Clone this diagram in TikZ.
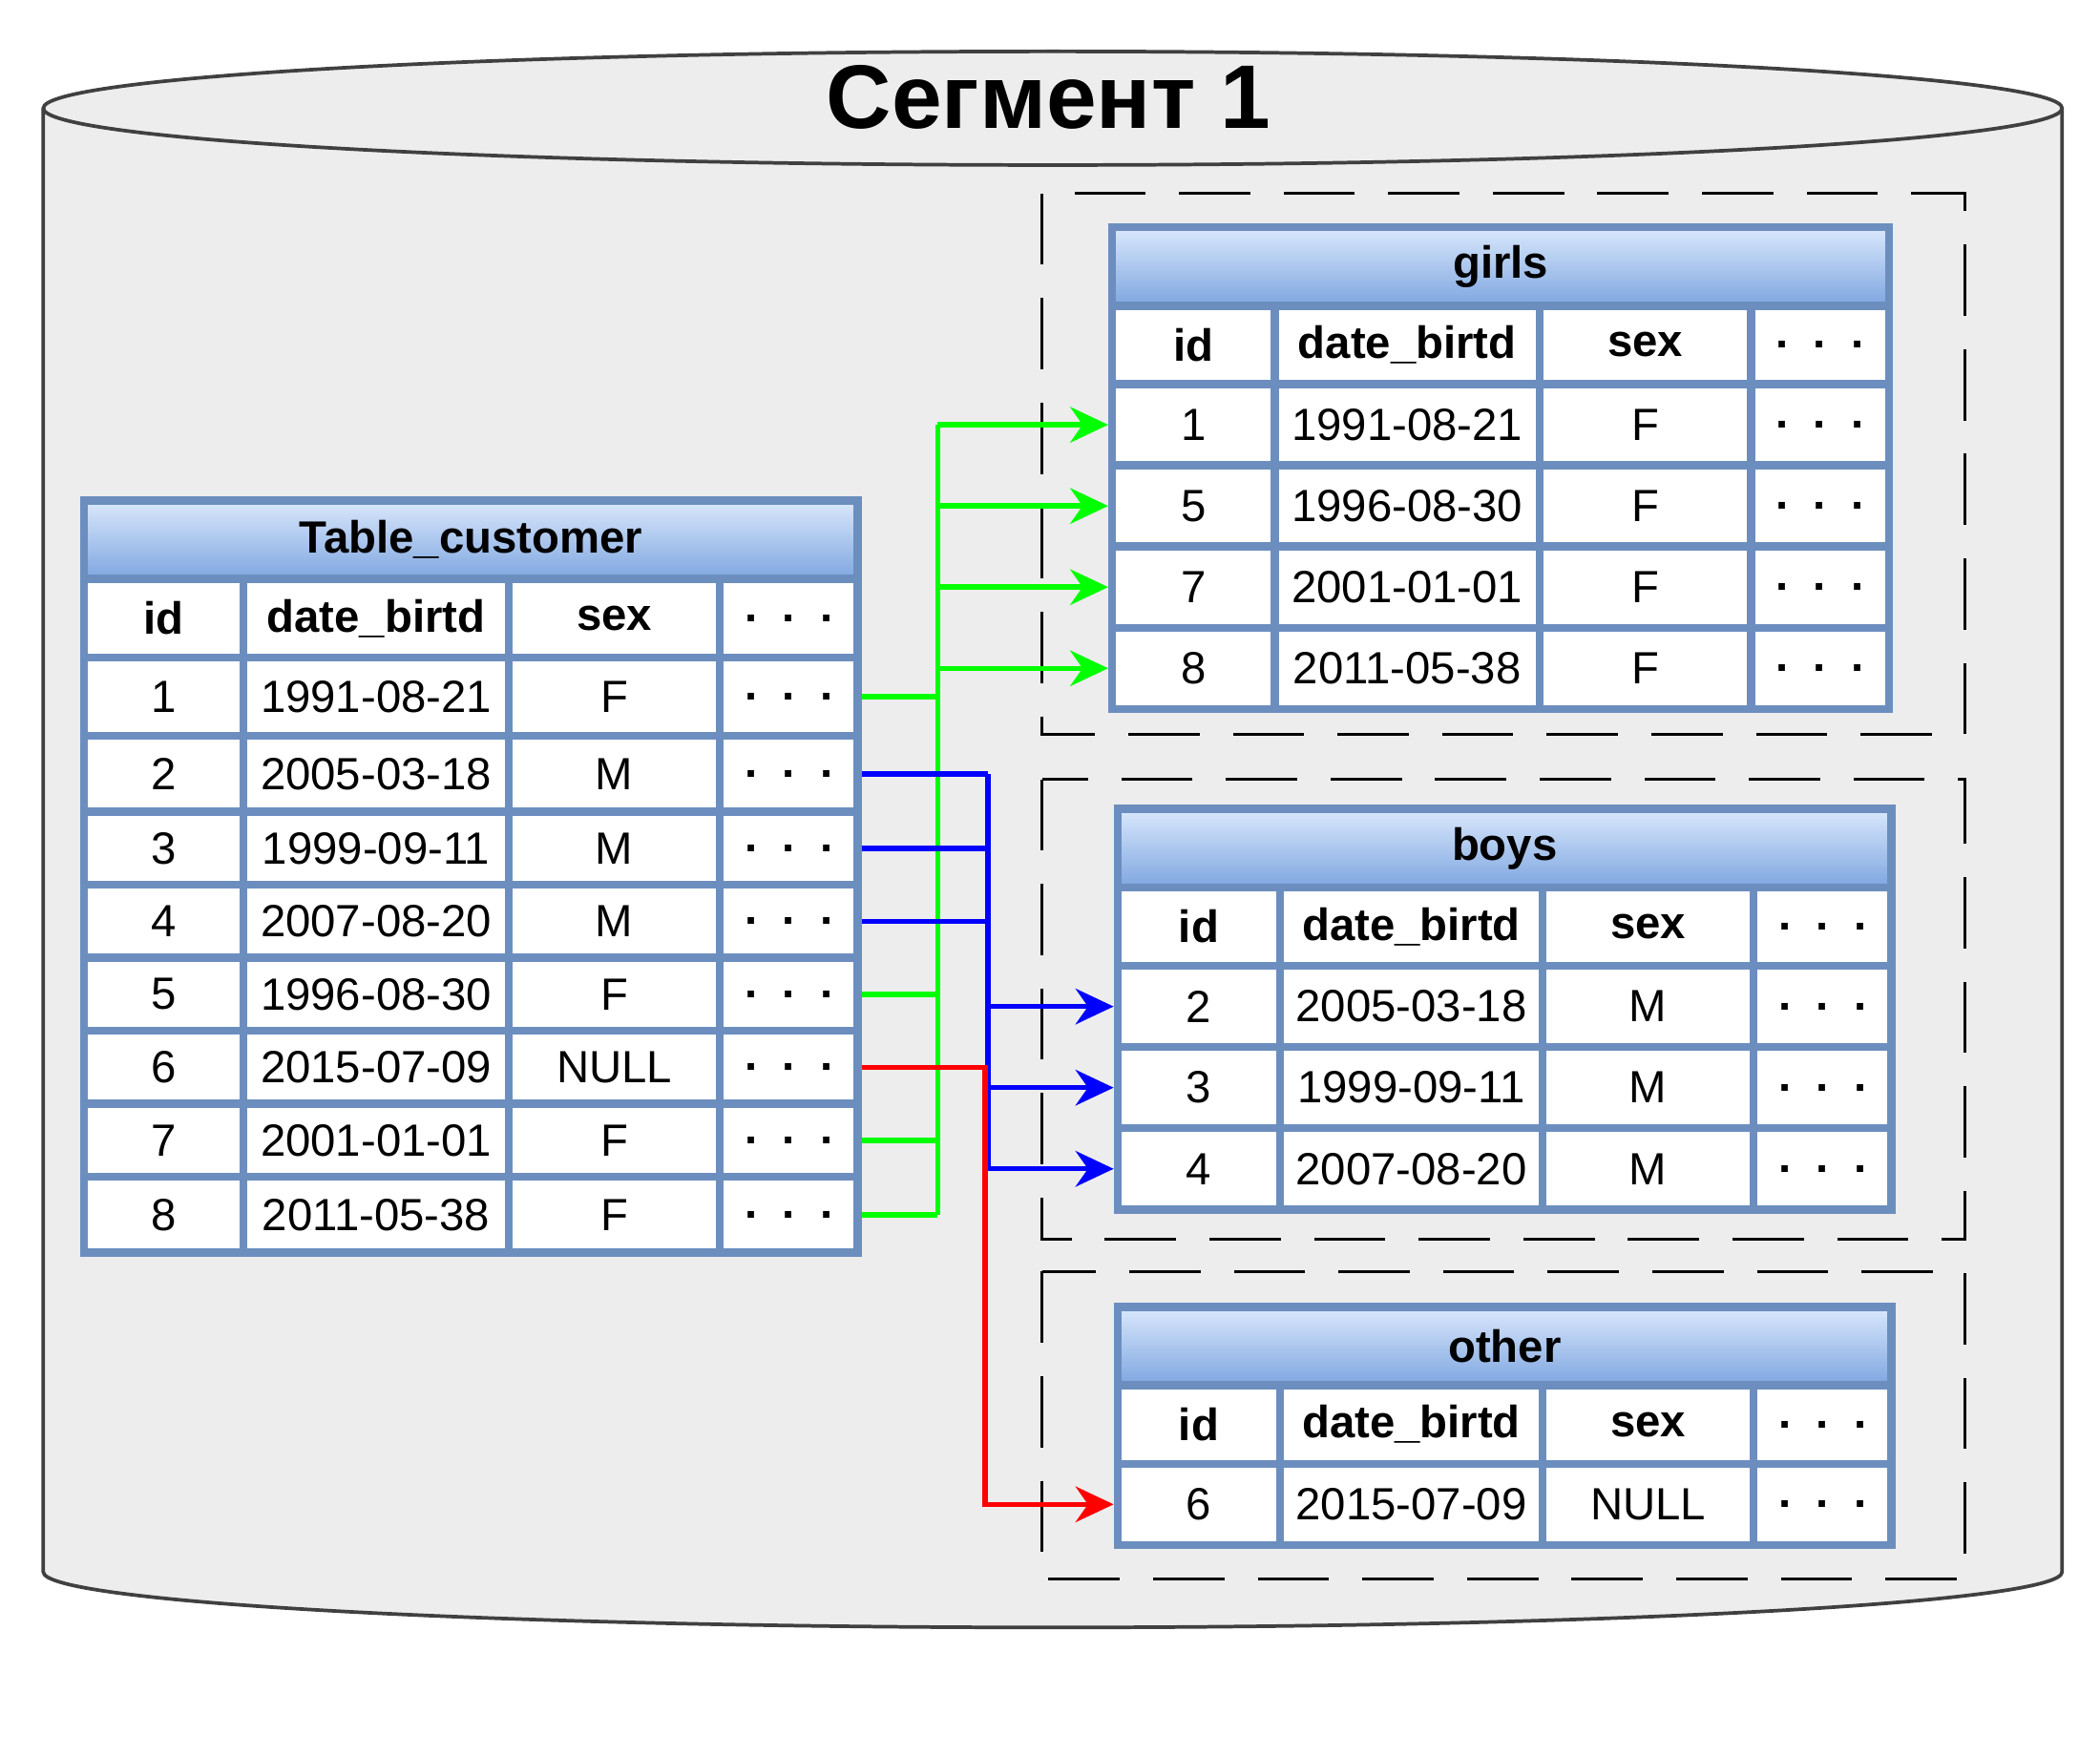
\documentclass[tikz,border=0pt]{standalone}
\usepackage{fontspec}
\setmainfont{Liberation Sans}
\usetikzlibrary{arrows.meta}
\begin{document}
\begin{tikzpicture}[x=0.02cm,y=-0.02cm,
  cell/.style={draw=bord,line width=3.4pt,fill=white,inner sep=0pt,font=\fontsize{19}{22}\selectfont},
  hcell/.style={cell,font=\fontsize{19}{22}\selectfont\bfseries},
  ttl/.style={draw=bord,line width=3.4pt,top color=hdtop,bottom color=hdbot,inner sep=0pt,font=\fontsize{19}{22}\selectfont\bfseries},
  grp/.style={draw=black,line width=1.2pt,dash pattern=on 30pt off 14pt},
  tip/.style={-{Stealth[length=16pt,width=15pt]}}]
\definecolor{bord}{HTML}{6C8EBF}
\definecolor{hdtop}{HTML}{DAE8FC}
\definecolor{hdbot}{HTML}{7EA6E0}
\definecolor{cyl}{HTML}{EDEDED}
\useasboundingbox (0,0) rectangle (1552,1298);
% cylinder
\draw[line width=1.5pt,fill=cyl,draw=black!75] (32,80) -- (32,1162) arc[start angle=180,end angle=0,x radius=746,y radius=41] -- (1524,80) arc[start angle=0,end angle=-180,x radius=746,y radius=42] -- cycle;
\draw[line width=1.5pt,draw=black!75] (32,80) arc[start angle=180,end angle=0,x radius=746,y radius=42];
\node[font=\fontsize{38}{44}\selectfont\bfseries] (title) at (775,72) {Сегмент 1};
% dashed groups
\draw[grp] (770,143) rectangle (1452,543);
\draw[grp] (770,576) rectangle (1452,916);
\draw[grp] (770,940) rectangle (1452,1167);
\newcommand\cel[7]{\node[#7,minimum width={(#4-#2)*0.02cm},minimum height={(#5-#3)*0.02cm}] (#1) at ({(#2+#4)/2},{(#3+#5)/2}) {#6};}
\newcommand\rowq[9]{%
\cel{#1a}{#4}{#2}{#5}{#3}{\ta}{#9}\cel{#1b}{#5}{#2}{#6}{#3}{\tb}{#9}\cel{#1c}{#6}{#2}{#7}{#3}{\tc}{#9}\cel{#1d}{#7}{#2}{#8}{#3}{\textbf{.\ \ .\ \ .}}{#9}}
% Table_customer
\cel{tc}{62}{370}{634}{428}{Table\_customer}{ttl}
\def\ta{id}\def\tb{date\_birtd}\def\tc{sex}\rowq{ch}{428}{486}{62}{180}{376}{532}{634}{hcell}
\def\ta{1}\def\tb{1991-08-21}\def\tc{F}\rowq{c1}{486}{544}{62}{180}{376}{532}{634}{cell}
\def\ta{2}\def\tb{2005-03-18}\def\tc{M}\rowq{c2}{544}{600}{62}{180}{376}{532}{634}{cell}
\def\ta{3}\def\tb{1999-09-11}\def\tc{M}\rowq{c3}{600}{654}{62}{180}{376}{532}{634}{cell}
\def\ta{4}\def\tb{2007-08-20}\def\tc{M}\rowq{c4}{654}{708}{62}{180}{376}{532}{634}{cell}
\def\ta{5}\def\tb{1996-08-30}\def\tc{F}\rowq{c5}{708}{762}{62}{180}{376}{532}{634}{cell}
\def\ta{6}\def\tb{2015-07-09}\def\tc{NULL}\rowq{c6}{762}{816}{62}{180}{376}{532}{634}{cell}
\def\ta{7}\def\tb{2001-01-01}\def\tc{F}\rowq{c7}{816}{870}{62}{180}{376}{532}{634}{cell}
\def\ta{8}\def\tb{2011-05-38}\def\tc{F}\rowq{c8}{870}{926}{62}{180}{376}{532}{634}{cell}
% girls
\cel{gt}{822}{168}{1396}{226}{girls}{ttl}
\def\ta{id}\def\tb{date\_birtd}\def\tc{sex}\rowq{gh}{226}{284}{822}{942}{1138}{1294}{1396}{hcell}
\def\ta{1}\def\tb{1991-08-21}\def\tc{F}\rowq{g1}{284}{344}{822}{942}{1138}{1294}{1396}{cell}
\def\ta{5}\def\tb{1996-08-30}\def\tc{F}\rowq{g2}{344}{404}{822}{942}{1138}{1294}{1396}{cell}
\def\ta{7}\def\tb{2001-01-01}\def\tc{F}\rowq{g3}{404}{464}{822}{942}{1138}{1294}{1396}{cell}
\def\ta{8}\def\tb{2011-05-38}\def\tc{F}\rowq{g4}{464}{524}{822}{942}{1138}{1294}{1396}{cell}
% boys
\cel{bt}{826}{598}{1398}{656}{boys}{ttl}
\def\ta{id}\def\tb{date\_birtd}\def\tc{sex}\rowq{bh}{656}{714}{826}{946}{1140}{1296}{1398}{hcell}
\def\ta{2}\def\tb{2005-03-18}\def\tc{M}\rowq{b1}{714}{774}{826}{946}{1140}{1296}{1398}{cell}
\def\ta{3}\def\tb{1999-09-11}\def\tc{M}\rowq{b2}{774}{834}{826}{946}{1140}{1296}{1398}{cell}
\def\ta{4}\def\tb{2007-08-20}\def\tc{M}\rowq{b3}{834}{894}{826}{946}{1140}{1296}{1398}{cell}
% other
\cel{ot}{826}{966}{1398}{1024}{other}{ttl}
\def\ta{id}\def\tb{date\_birtd}\def\tc{sex}\rowq{oh}{1024}{1082}{826}{946}{1140}{1296}{1398}{hcell}
\def\ta{6}\def\tb{2015-07-09}\def\tc{NULL}\rowq{o1}{1082}{1142}{826}{946}{1140}{1296}{1398}{cell}
% connectors
\coordinate (gx) at (693,0);
\coordinate (bx) at (730,0);
\coordinate (rx) at (728,0);
\foreach \r in {c1,c5,c7,c8}{\draw[green,line width=2.2pt] (\r d.east) -- (\r d.east -| gx);}
\draw[green,line width=2.2pt] (c8d.east -| gx) -- (g1a.west -| gx);
\foreach \r in {g1,g2,g3,g4}{\draw[green,line width=2.2pt,tip] (\r a.west -| gx) -- (\r a.west);}
\foreach \r in {c2,c3,c4}{\draw[blue,line width=2.2pt] (\r d.east) -- (\r d.east -| bx);}
\draw[blue,line width=2.2pt] (c2d.east -| bx) -- (b3a.west -| bx);
\foreach \r in {b1,b2,b3}{\draw[blue,line width=2.2pt,tip] (\r a.west -| bx) -- (\r a.west);}
\draw[red,line width=2.2pt,tip] (c6d.east) -- (c6d.east -| rx) -- (o1a.west -| rx) -- (o1a.west);
\end{tikzpicture}
\end{document}
